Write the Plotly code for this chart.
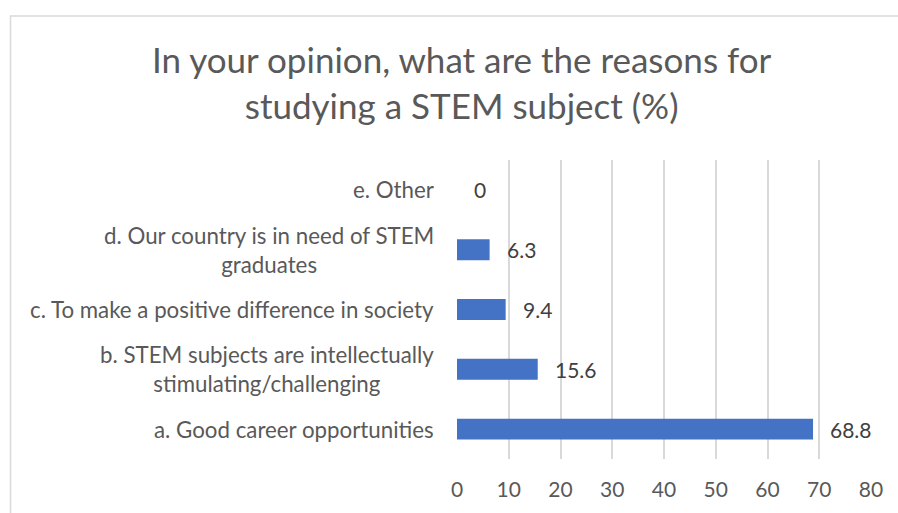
import plotly.graph_objects as go

# Survey responses (percent), listed bottom to top
categories = [
    "a. Good career opportunities",
    "b. STEM subjects are intellectually<br>stimulating/challenging",
    "c. To make a positive difference in society",
    "d. Our country is in need of STEM<br>graduates",
    "e. Other",
]
values = [68.8, 15.6, 9.4, 6.3, 0]
value_labels = ["68.8", "15.6", "9.4", "6.3", "0"]
x_ticks = [0, 10, 20, 30, 40, 50, 60, 70, 80]
title_text = "In your opinion, what are the reasons for<br>studying a STEM subject (%)"

W, H = 898, 513
ML, MR, MT, MB = 457, 27, 160, 51
PW, PH = W - ML - MR, H - MT - MB

FONT = "Lato"
GREY = "#595959"
DARK = "#404040"
BAR = "#4472C4"

fig = go.Figure()
fig.add_trace(go.Bar(
    x=values,
    y=categories,
    orientation="h",
    marker=dict(color=BAR, line=dict(width=0)),
    hoverinfo="skip",
))


def px_to_paper_x(px):
    return (px - ML) / PW


def px_to_paper_y(py):
    return (H - MB - py) / PH


annotations = []
# chart title
annotations.append(dict(
    x=px_to_paper_x(462), xref="paper", y=px_to_paper_y(81), yref="paper",
    text=title_text, showarrow=False, xanchor="center", yanchor="middle",
    align="center",
    font=dict(family=FONT, size=35, color=GREY),
))
# category labels: right-aligned block, centered lines
for cat in categories:
    annotations.append(dict(
        x=0, xref="paper", y=cat, yref="y",
        text=cat, showarrow=False, xanchor="right", yanchor="middle",
        align="center", xshift=-21,
        font=dict(family=FONT, size=22.3, color=GREY),
    ))
# value labels at bar ends
for cat, v, lab in zip(categories, values, value_labels):
    annotations.append(dict(
        x=v, xref="x", y=cat, yref="y",
        text=lab, showarrow=False, xanchor="left", yanchor="middle",
        xshift=15,
        font=dict(family=FONT, size=21, color=DARK),
    ))

fig.update_layout(
    width=W, height=H,
    margin=dict(l=ML, r=MR, t=MT, b=MB),
    paper_bgcolor="white", plot_bgcolor="white",
    showlegend=False,
    bargap=0.65,
    xaxis=dict(
        range=[0, 80], tickvals=x_ticks, ticktext=[str(t) for t in x_ticks],
        showgrid=True, gridcolor="#d9d9d9", gridwidth=1.5,
        zeroline=False, showline=False, ticks="",
        ticklabelstandoff=16,
        tickfont=dict(family=FONT, size=21, color=GREY),
        fixedrange=True,
    ),
    yaxis=dict(
        categoryorder="array", categoryarray=categories,
        range=[-0.5, 4.5],
        showticklabels=False, showgrid=False, zeroline=False, showline=False,
        ticks="", fixedrange=True,
    ),
    annotations=annotations,
    shapes=[dict(
        type="rect", xref="paper", yref="paper", layer="below",
        x0=px_to_paper_x(10.5), x1=px_to_paper_x(W + 10),
        y0=px_to_paper_y(H + 10), y1=px_to_paper_y(14.5),
        line=dict(color="#d9d9d9", width=1.5), fillcolor="rgba(0,0,0,0)",
    )],
)

fig.write_html("out.html", config=dict(displayModeBar=False))
